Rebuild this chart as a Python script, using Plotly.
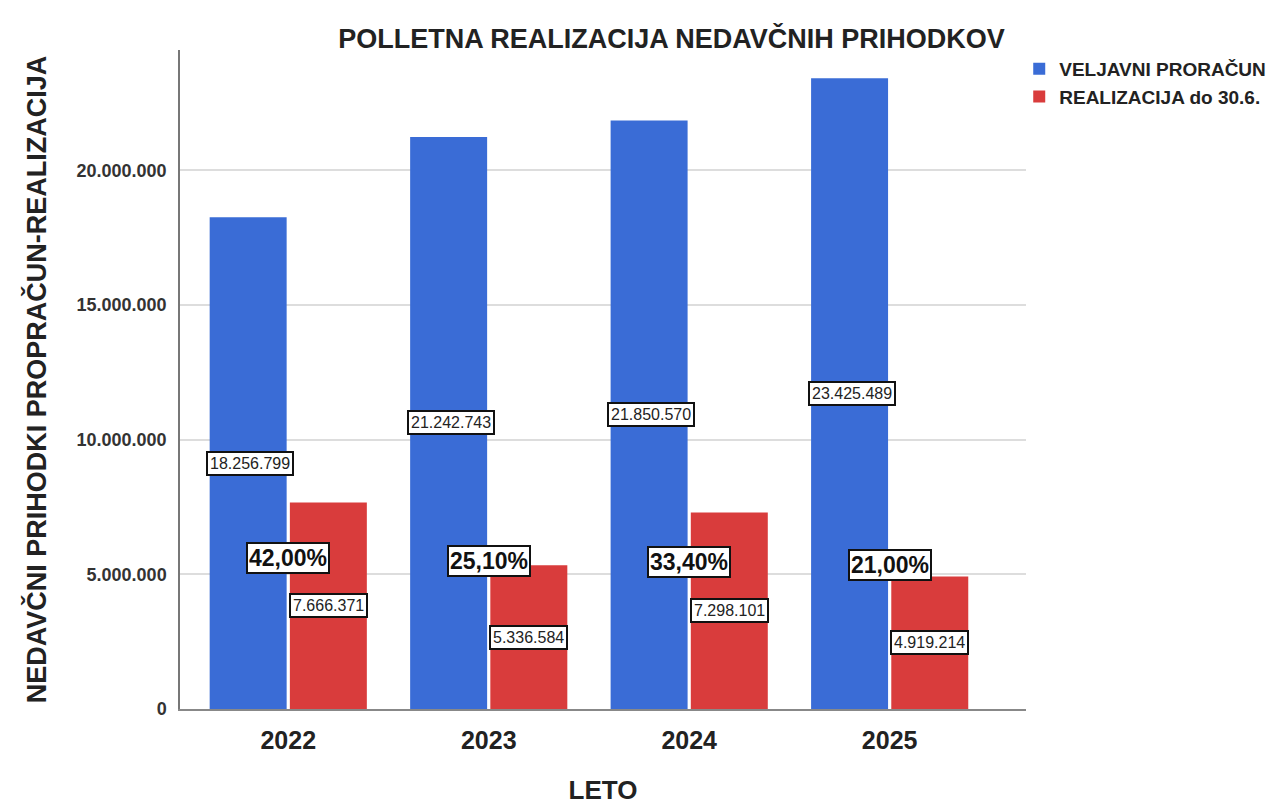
import plotly.graph_objects as go

years = ["2022", "2023", "2024", "2025"]
budget = [18256799, 21242743, 21850570, 23425489]
realized = [7666371, 5336584, 7298101, 4919214]
pct_labels = ["42,00%", "25,10%", "33,40%", "21,00%"]
pct_y = [5600000, 5500000, 5450000, 5350000]

BLUE = "#3a6cd6"
RED = "#d93c3c"
FONT = "Liberation Sans, Arial, sans-serif"


def fmt(v):
    return f"{v:,}".replace(",", ".")


fig = go.Figure()
fig.add_trace(go.Bar(x=years, y=budget, name="<b>VELJAVNI PRORAČUN</b>",
                     marker=dict(color=BLUE, line=dict(width=0))))
fig.add_trace(go.Bar(x=years, y=realized, name="<b>REALIZACIJA do 30.6.</b>",
                     marker=dict(color=RED, line=dict(width=0))))

# value boxes in the middle of each bar (x = category index)
for i, yr in enumerate(years):
    fig.add_annotation(
        x=i, y=budget[i] / 2, xref="x", yref="y", xshift=-38,
        text=fmt(budget[i]), showarrow=False,
        font=dict(family=FONT, size=16, color="#222"),
        bgcolor="white", bordercolor="#111", borderwidth=2, borderpad=2,
    )
    fig.add_annotation(
        x=i, y=realized[i] / 2, xref="x", yref="y", xshift=40,
        text=fmt(realized[i]), showarrow=False,
        font=dict(family=FONT, size=16, color="#222"),
        bgcolor="white", bordercolor="#111", borderwidth=2, borderpad=2,
    )
    fig.add_annotation(
        x=i, y=pct_y[i], xref="x", yref="y", xshift=0,
        text=f"<b>{pct_labels[i]}</b>", showarrow=False,
        font=dict(family=FONT, size=23, color="#111"),
        bgcolor="white", bordercolor="#111", borderwidth=2, borderpad=1,
    )

fig.update_layout(
    width=1286, height=804,
    paper_bgcolor="white", plot_bgcolor="white",
    margin=dict(l=172, r=268, t=42, b=94),
    separators=",.",
    barmode="group", bargap=0.2, bargroupgap=0.04,
    title=dict(text="<b>POLLETNA REALIZACIJA NEDAVČNIH PRIHODKOV</b>",
               x=0.516, xanchor="center", y=0.962, yanchor="middle",
               font=dict(family=FONT, size=27, color="#222")),
    legend=dict(x=0.992, y=1.0, xanchor="left", yanchor="top",
                font=dict(family=FONT, size=19, color="#222"),
                itemwidth=30, tracegroupgap=0, bgcolor="rgba(0,0,0,0)"),
    font=dict(family=FONT),
)
fig.update_xaxes(
    type="category",
    range=[-0.54, 3.68], showline=True, linecolor="#888", linewidth=1.5,
    ticks="", showgrid=False,
    tickvals=years, ticktext=[f"<b>{y}</b>" for y in years],
    tickfont=dict(family=FONT, size=25, color="#222"),
    ticklabelstandoff=8,
    title=dict(text="<b>LETO</b>", font=dict(family=FONT, size=26, color="#222"),
               standoff=28),
)
fig.update_yaxes(
    range=[0, 24470000], showline=True, linecolor="#777", linewidth=1.5,
    tickvals=[0, 5000000, 10000000, 15000000, 20000000],
    ticktext=["<b>0</b>", "<b>5.000.000</b>", "<b>10.000.000</b>",
              "<b>15.000.000</b>", "<b>20.000.000</b>"],
    showgrid=True, gridcolor="#dddddd", gridwidth=1.5, zeroline=False,
    tickfont=dict(family=FONT, size=18, color="#333"),
    ticks="", ticklabelstandoff=8,
    title=dict(text="<b>NEDAVČNI PRIHODKI PROPRAČUN-REALIZACIJA</b>",
               font=dict(family=FONT, size=27, color="#222"), standoff=22),
)

fig.write_html("out.html")
